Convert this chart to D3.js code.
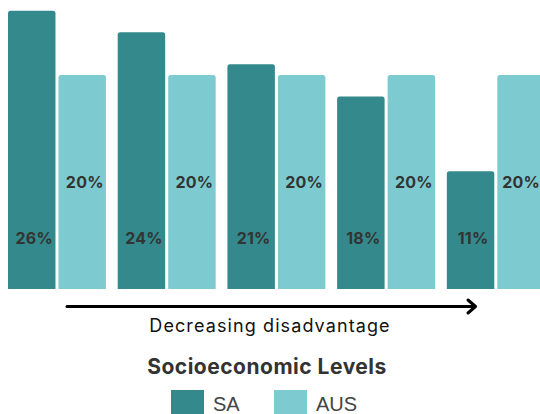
<!DOCTYPE html>
<html><head><meta charset="utf-8">
<script src="https://cdn.jsdelivr.net/npm/d3@7"></script>
<style>html,body{margin:0;padding:0;background:#fff;overflow:hidden}</style>
</head><body>
<svg id="chart" width="540" height="414"></svg>
<script>
const levels = ["1","2","3","4","5"];
const series = ["SA","AUS"];
const saValues = [26,24,21,18,11];
const ausValues = [20,20,20,20,20];
const colors = {SA:"#33898B", AUS:"#7DCBD0"};
const axisLabel = "Decreasing disadvantage";
const legendTitle = "Socioeconomic Levels";

const W = 540;
const svg = d3.select("#chart");
const data = levels.map((l,i)=>({level:l, SA:saValues[i], AUS:ausValues[i]}));

const x0 = d3.scaleBand().domain(levels).range([8,544.8]).paddingInner(0.107).paddingOuter(0);
const x1 = d3.scaleBand().domain(series).range([0,x0.bandwidth()]).paddingInner(0.06);
const y = d3.scaleLinear().domain([0,20]).range([289,75]);

function topRounded(x,yTop,w,h,r){
  return `M${x},${yTop+h}V${yTop+r}Q${x},${yTop} ${x+r},${yTop}H${x+w-r}Q${x+w},${yTop} ${x+w},${yTop+r}V${yTop+h}Z`;
}

const g = svg.append("g");
const groups = g.selectAll("g.grp").data(data).join("g").attr("class","grp")
  .attr("transform",d=>`translate(${x0(d.level)},0)`);

groups.selectAll("path").data(d=>series.map(s=>({s, v:d[s], gx:x0(d.level)}))).join("path")
  .attr("d",d=>topRounded(x1(d.s), y(d.v), x1.bandwidth(), y(0)-y(d.v), 2.5))
  .attr("fill",d=>colors[d.s]);

const labelY = {SA:238, AUS:182};
groups.selectAll("text").data(d=>series.map(s=>({s, v:d[s], gx:x0(d.level)}))).join("text")
  .attr("x",d=>{
    const left = x1(d.s);
    const right = Math.min(left + x1.bandwidth(), W - d.gx);
    return (left + right)/2 + 2.5;
  })
  .attr("y",d=>labelY[d.s])
  .attr("dy","0.36em")
  .attr("text-anchor","middle")
  .attr("font-family","Inter, 'Noto Sans', sans-serif")
  .attr("font-weight",700)
  .attr("font-size",16)
  .attr("letter-spacing",0.2)
  .attr("fill","#333")
  .text(d=>d.v+"%");

// arrow
const ay = 306.5;
svg.append("line").attr("x1",67).attr("x2",475).attr("y1",ay).attr("y2",ay)
  .attr("stroke","#000").attr("stroke-width",3).attr("stroke-linecap","round");
svg.append("path").attr("d",`M468,${ay-6.5}L475.5,${ay}L468,${ay+6.5}`)
  .attr("fill","none").attr("stroke","#000").attr("stroke-width",3)
  .attr("stroke-linecap","round").attr("stroke-linejoin","round");

svg.append("text").attr("x",270).attr("y",332).attr("text-anchor","middle")
  .attr("font-family","Inter, 'Noto Sans', sans-serif").attr("font-size",18)
  .attr("letter-spacing",1.1)
  .attr("fill","#111").text(axisLabel);

svg.append("text").attr("x",267).attr("y",374).attr("text-anchor","middle")
  .attr("font-family","Inter, 'Noto Sans', sans-serif").attr("font-weight",700).attr("font-size",21)
  .attr("letter-spacing",0.5)
  .attr("fill","#333").text(legendTitle);

const legendX = {SA:171, AUS:274};
const lg = svg.selectAll("g.leg").data(series).join("g").attr("class","leg")
  .attr("transform",s=>`translate(${legendX[s]},390)`);
lg.append("rect").attr("width",33).attr("height",30).attr("fill",s=>colors[s]);
lg.append("text").attr("x",42).attr("y",21).attr("font-family","'Liberation Sans', Arial, sans-serif")
  .attr("font-size",20).attr("fill","#444").text(s=>s);
</script>
</body></html>
